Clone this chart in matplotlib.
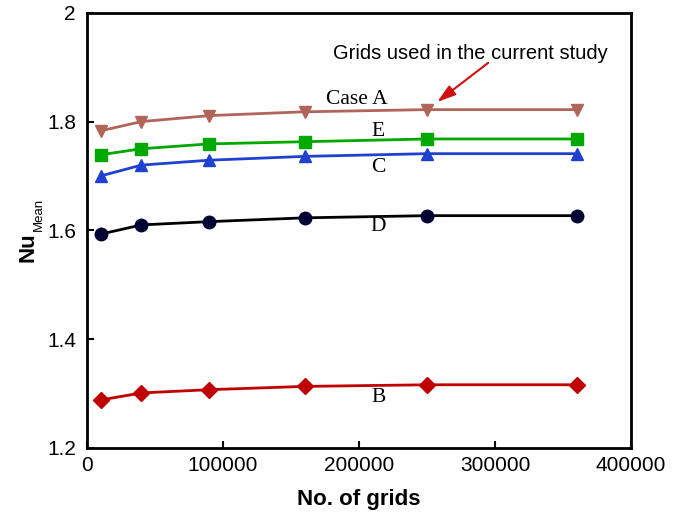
import numpy as np
import matplotlib.pyplot as plt

plt.rcParams['font.family'] = ['Liberation Sans', 'DejaVu Sans']

grids = [10000, 40000, 90000, 160000, 250000, 360000]
nu_a = [1.783, 1.800, 1.811, 1.818, 1.822, 1.822]
nu_e = [1.739, 1.750, 1.759, 1.763, 1.768, 1.768]
nu_c = [1.700, 1.720, 1.729, 1.736, 1.741, 1.741]
nu_d = [1.593, 1.610, 1.616, 1.623, 1.627, 1.627]
nu_b = [1.288, 1.301, 1.307, 1.313, 1.316, 1.316]

fig = plt.figure(figsize=(6.94, 5.13), dpi=100)
ax = fig.add_axes([0.1254, 0.127, 0.784, 0.848])

ax.plot(grids, nu_a, color='#B0645A', marker='v', markersize=9, linewidth=2)
ax.plot(grids, nu_e, color='#00A800', marker='s', markersize=8, linewidth=2)
ax.plot(grids, nu_c, color='#2040D0', marker='^', markersize=9, linewidth=2)
ax.plot(grids, nu_d, color='black', marker='o', markersize=9, markerfacecolor='#000033',
        markeredgecolor='#000033', linewidth=2)
ax.plot(grids, nu_b, color='#C00000', marker='D', markersize=8, linewidth=2)

serif = dict(family='Liberation Serif', fontsize=15.5, ha='center', va='center')
ax.text(198500, 1.840, 'Case A', **serif)
ax.text(214000, 1.782, 'E', **serif)
ax.text(214000, 1.715, 'C', **serif)
ax.text(214000, 1.607, 'D', **serif)
ax.text(214000, 1.292, 'B', **serif)

ax.text(281600, 1.926, 'Grids used in the current study', fontsize=14.5, ha='center', va='center')
ax.annotate('', xy=(257400, 1.836), xytext=(294900, 1.908),
            arrowprops=dict(arrowstyle='-|>,head_width=0.25,head_length=0.8',
                            color='#D01010', lw=1.5, shrinkA=0, shrinkB=0, mutation_scale=14))

ax.set_xlim(0, 400000)
ax.set_ylim(1.2, 2.0)
ax.set_xticks([0, 100000, 200000, 300000, 400000])
ax.set_yticks([1.2, 1.4, 1.6, 1.8, 2.0])
ax.set_yticklabels(['1.2', '1.4', '1.6', '1.8', '2'])
ax.tick_params(direction='in', width=1.5, length=5, labelsize=15)
ax.tick_params(axis='x', pad=6)
ax.tick_params(axis='y', pad=8)
for s in ax.spines.values():
    s.set_linewidth(2)

ax.set_xlabel('No. of grids', fontsize=16, fontweight='bold', labelpad=10)
ax.set_ylabel('Nu', fontsize=16, fontweight='bold')
ax.yaxis.set_label_coords(-0.090, 0.462)
ax.text(-0.088, 0.536, 'Mean', fontsize=9.5, rotation=90, ha='center', va='center',
        transform=ax.transAxes)

fig.savefig('out.png', dpi=100)
